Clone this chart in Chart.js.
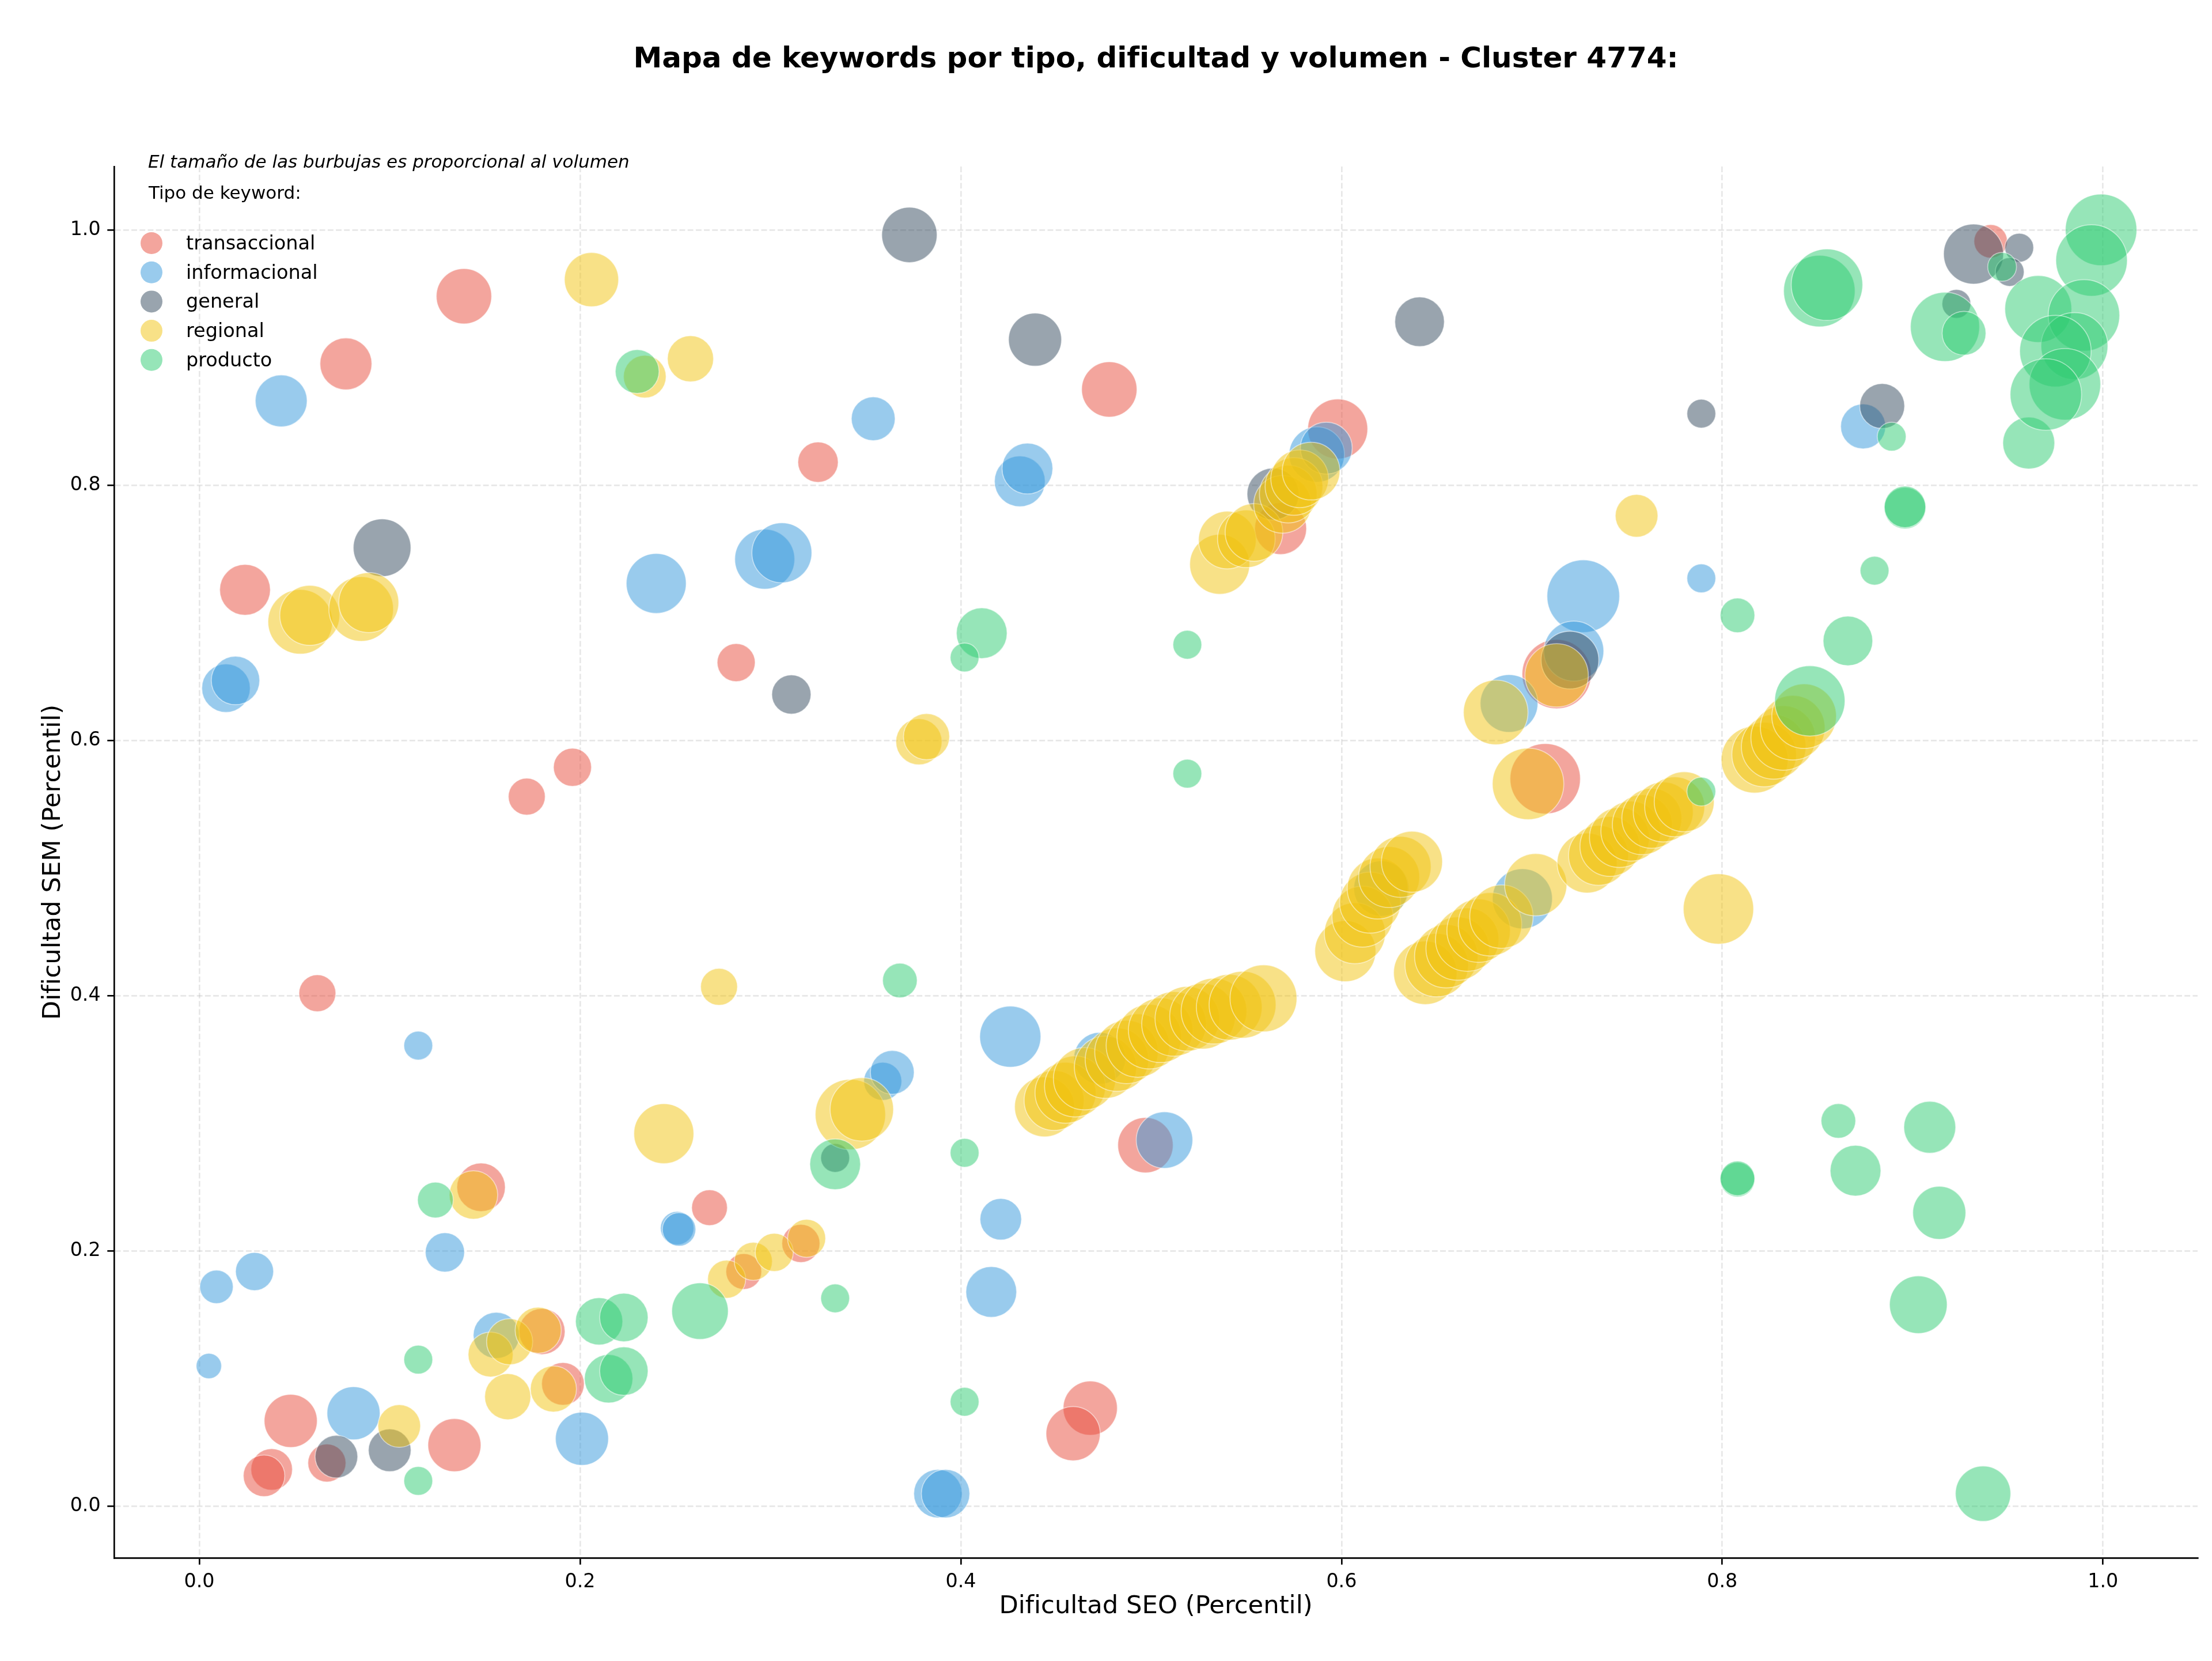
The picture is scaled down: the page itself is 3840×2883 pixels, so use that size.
<!DOCTYPE html>
<html lang="es">
<head>
<meta charset="utf-8">
<title>Mapa de keywords - Cluster 4774</title>
<script src="https://cdn.jsdelivr.net/npm/chart.js@4.4.1/dist/chart.umd.min.js"></script>
<style>
  html, body { margin: 0; padding: 0; background: #fff; overflow: hidden; }
  canvas { display: block; }
</style>
</head>
<body>
<canvas id="keywordChart" width="3840" height="2883"></canvas>
<script>
const titulo = 'Mapa de keywords por tipo, dificultad y volumen - Cluster 4774:';
const nota = 'El tamaño de las burbujas es proporcional al volumen';
const tipos = ['transaccional', 'informacional', 'general', 'regional', 'producto'];
const colores = ['231, 76, 60', '52, 152, 219', '52, 73, 94', '241, 196, 15', '46, 204, 113'];
const xTicks = [0, 0.2, 0.4, 0.6, 0.8, 1.0];
const yTicks = [0, 0.2, 0.4, 0.6, 0.8, 1.0];

// dificultad SEO (x), dificultad SEM (y) y volumen por tipo de keyword
const transaccionalSEO = [0.139, 0.077, 0.024, 0.325, 0.478, 0.598, 0.282, 0.172, 0.196, 0.062, 0.148, 0.268, 0.286, 0.316, 0.191, 0.048, 0.038, 0.034, 0.067, 0.134, 0.468, 0.459, 0.497, 0.707, 0.713, 0.568, 0.941, 0.180];
const transaccionalSEM = [0.948, 0.895, 0.718, 0.818, 0.875, 0.844, 0.661, 0.556, 0.579, 0.402, 0.250, 0.234, 0.184, 0.206, 0.096, 0.067, 0.029, 0.024, 0.034, 0.048, 0.077, 0.057, 0.283, 0.570, 0.652, 0.766, 0.991, 0.137];
const transaccionalVol = [576, 506, 484, 306, 576, 676, 272, 256, 272, 256, 441, 240, 240, 272, 342, 529, 324, 324, 272, 529, 552, 552, 576, 930, 900, 506, 210, 400];

const informacionalSEO = [0.043, 0.014, 0.019, 0.240, 0.297, 0.306, 0.354, 0.431, 0.435, 0.115, 0.359, 0.364, 0.426, 0.421, 0.416, 0.251, 0.252, 0.129, 0.029, 0.009, 0.005, 0.081, 0.201, 0.388, 0.392, 0.507, 0.473, 0.587, 0.592, 0.727, 0.722, 0.688, 0.695, 0.621, 0.789, 0.874, 0.156];
const informacionalSEM = [0.866, 0.641, 0.647, 0.723, 0.742, 0.747, 0.852, 0.803, 0.813, 0.361, 0.333, 0.340, 0.368, 0.225, 0.168, 0.218, 0.217, 0.199, 0.184, 0.172, 0.110, 0.073, 0.053, 0.010, 0.010, 0.287, 0.351, 0.824, 0.829, 0.713, 0.670, 0.629, 0.476, 0.484, 0.727, 0.846, 0.134];
const informacionalVol = [506, 441, 441, 676, 676, 676, 361, 484, 484, 156, 272, 361, 702, 324, 484, 210, 210, 289, 272, 210, 121, 529, 529, 441, 441, 600, 506, 576, 506, 992, 676, 625, 676, 576, 156, 380, 400];

const generalSEO = [0.373, 0.439, 0.641, 0.096, 0.311, 0.932, 0.956, 0.951, 0.923, 0.789, 0.884, 0.564, 0.720, 0.334, 0.072, 0.100];
const generalSEM = [0.996, 0.914, 0.928, 0.751, 0.636, 0.981, 0.986, 0.967, 0.942, 0.856, 0.862, 0.793, 0.663, 0.273, 0.039, 0.044];
const generalVol = [576, 529, 462, 625, 289, 676, 156, 156, 156, 156, 380, 506, 625, 156, 342, 342];

const regionalSEO = [
  0.206, 0.234, 0.258, 0.053, 0.058, 0.085, 0.089, 0.378, 0.382, 0.273, 0.244, 0.144, 0.755, 0.798, 0.105, 0.162, 0.153, 0.163, 0.178, 0.186, 0.277, 0.291, 0.302, 0.319, 0.342, 0.348,
  0.444, 0.449, 0.455, 0.460, 0.465, 0.476, 0.482, 0.487, 0.493, 0.499, 0.505, 0.512, 0.519, 0.527, 0.533, 0.541, 0.548, 0.559,
  0.536, 0.540, 0.550, 0.554, 0.569, 0.572, 0.575, 0.578, 0.584,
  0.602, 0.607, 0.611, 0.615, 0.619, 0.625, 0.631, 0.637,
  0.644, 0.650, 0.655, 0.661, 0.666, 0.672, 0.678, 0.684, 0.702,
  0.729, 0.735, 0.741, 0.746, 0.752, 0.758, 0.763, 0.769, 0.775, 0.780,
  0.817, 0.822, 0.827, 0.832, 0.837, 0.843,
  0.681, 0.713, 0.698
];
const regionalSEM = [
  0.961, 0.885, 0.899, 0.693, 0.698, 0.703, 0.708, 0.599, 0.603, 0.407, 0.292, 0.244, 0.776, 0.468, 0.063, 0.086, 0.119, 0.129, 0.138, 0.092, 0.178, 0.192, 0.199, 0.210, 0.307, 0.311,
  0.313, 0.318, 0.324, 0.329, 0.335, 0.344, 0.350, 0.356, 0.361, 0.368, 0.373, 0.378, 0.382, 0.384, 0.388, 0.391, 0.393, 0.398,
  0.738, 0.757, 0.758, 0.763, 0.785, 0.793, 0.799, 0.805, 0.811,
  0.435, 0.449, 0.462, 0.473, 0.484, 0.493, 0.501, 0.505,
  0.418, 0.424, 0.431, 0.437, 0.444, 0.451, 0.456, 0.462, 0.487,
  0.504, 0.510, 0.517, 0.524, 0.529, 0.534, 0.539, 0.544, 0.548, 0.552,
  0.585, 0.589, 0.595, 0.602, 0.610, 0.619,
  0.622, 0.651, 0.566
];
const regionalVol = [
  552, 342, 400, 784, 676, 784, 676, 400, 400, 256, 676, 441, 342, 930, 342, 400, 380, 400, 400, 400, 272, 272, 272, 272, 930, 756,
  676, 676, 700, 700, 729, 729, 756, 756, 756, 784, 784, 784, 784, 812, 812, 812, 841, 841,
  676, 625, 625, 625, 625, 625, 625, 625, 625,
  700, 700, 700, 700, 700, 700, 700, 700,
  756, 756, 756, 756, 756, 756, 756, 756, 729,
  676, 676, 676, 676, 676, 676, 676, 676, 676, 676,
  841, 784, 784, 784, 784, 784,
  784, 756, 961
];

const productoSEO = [0.230, 0.411, 0.402, 0.519, 0.519, 0.368, 0.124, 0.115, 0.115, 0.210, 0.223, 0.215, 0.223, 0.263, 0.334, 0.402, 0.334, 0.402, 0.861, 0.808, 0.808, 0.870, 0.909, 0.914, 0.903, 0.937, 0.789, 0.846, 0.866, 0.808, 0.880, 0.896, 0.896, 0.889, 0.961, 0.851, 0.855, 0.917, 0.927, 0.947, 0.999, 0.994, 0.966, 0.990, 0.985, 0.975, 0.980, 0.970];
const productoSEM = [0.889, 0.684, 0.665, 0.675, 0.574, 0.412, 0.240, 0.115, 0.020, 0.145, 0.148, 0.100, 0.106, 0.153, 0.268, 0.277, 0.163, 0.082, 0.302, 0.256, 0.257, 0.263, 0.297, 0.230, 0.158, 0.010, 0.560, 0.631, 0.678, 0.698, 0.733, 0.782, 0.783, 0.838, 0.833, 0.952, 0.957, 0.924, 0.919, 0.971, 1.000, 0.976, 0.938, 0.933, 0.909, 0.905, 0.879, 0.871];
const productoVol = [361, 484, 156, 156, 156, 225, 240, 156, 156, 420, 441, 441, 441, 600, 484, 156, 156, 156, 225, 225, 225, 484, 506, 529, 625, 576, 156, 930, 462, 225, 156, 324, 324, 156, 506, 961, 961, 900, 361, 156, 961, 961, 841, 961, 841, 961, 961, 961];

const series = [
  [transaccionalSEO, transaccionalSEM, transaccionalVol],
  [informacionalSEO, informacionalSEM, informacionalVol],
  [generalSEO, generalSEM, generalVol],
  [regionalSEO, regionalSEM, regionalVol],
  [productoSEO, productoSEM, productoVol]
];

const FONT = '"DejaVu Sans", sans-serif';
Chart.defaults.font.family = FONT;
Chart.defaults.color = '#000';

// radio de la burbuja en px a partir del volumen
const radio = vol => 2 * Math.sqrt(vol);

const datasets = series.map(([seo, sem, vol], i) => ({
  label: tipos[i],
  data: seo.map((x, j) => ({ x: x, y: sem[j], r: radio(vol[j]) })),
  backgroundColor: `rgba(${colores[i]}, 0.5)`,
  borderColor: 'rgba(255, 255, 255, 0.5)',
  borderWidth: 1.7,
  hoverRadius: 0,
  order: tipos.length - i
}));

const textosPlugin = {
  id: 'textos',
  afterDraw(chart) {
    const { ctx, chartArea } = chart;
    ctx.save();
    ctx.fillStyle = '#000';
    ctx.textBaseline = 'alphabetic';

    ctx.textAlign = 'center';
    ctx.font = `bold 50px ${FONT}`;
    ctx.fillText(titulo, (chartArea.left + chartArea.right) / 2, 117);

    ctx.textAlign = 'left';
    ctx.font = `italic 31px ${FONT}`;
    ctx.fillText(nota, 257, 291);

    ctx.font = `31px ${FONT}`;
    ctx.fillText('Tipo de keyword:', 258, 345);

    tipos.forEach((tipo, i) => {
      const y = 422 + i * 50.7;
      ctx.beginPath();
      ctx.arc(263, y, 19, 0, Math.PI * 2);
      ctx.fillStyle = `rgba(${colores[i]}, 0.5)`;
      ctx.fill();
      ctx.fillStyle = '#000';
      ctx.font = `33.5px ${FONT}`;
      ctx.fillText(tipo, 323, y + 11);
    });
    ctx.restore();
  }
};

const gridOpts = {
  color: 'rgba(176, 176, 176, 0.3)',
  lineWidth: 2.67,
  tickColor: '#000',
  tickLength: 11.7,
  tickWidth: 2.67
};
const borderOpts = { display: true, color: '#000', width: 2.67, dash: [9.9, 4.3] };

new Chart(document.getElementById('keywordChart'), {
  type: 'bubble',
  data: { datasets },
  options: {
    responsive: false,
    devicePixelRatio: 1,
    animation: false,
    events: [],
    layout: { autoPadding: false, padding: { top: 289, right: 25, bottom: 0, left: 0 } },
    plugins: {
      legend: { display: false },
      tooltip: { enabled: false }
    },
    scales: {
      x: {
        type: 'linear',
        min: -0.0448,
        max: 1.0497,
        bounds: 'data',
        z: 1,
        afterBuildTicks: s => { s.ticks = xTicks.map(v => ({ value: v })); },
        afterFit: s => { s.height = 179; },
        ticks: { font: { size: 33.3 }, color: '#000', padding: 11, callback: v => v.toFixed(1) },
        grid: gridOpts,
        border: borderOpts,
        title: { display: true, text: 'Dificultad SEO (Percentil)', font: { size: 43.3 }, color: '#000', padding: { top: 0, bottom: 68 } }
      },
      y: {
        type: 'linear',
        min: -0.0403,
        max: 1.0496,
        bounds: 'data',
        z: 1,
        afterBuildTicks: s => { s.ticks = yTicks.map(v => ({ value: v })); },
        afterFit: s => { s.width = 198; },
        ticks: { font: { size: 33.3 }, color: '#000', padding: 11.7, callback: v => v.toFixed(1) },
        grid: gridOpts,
        border: borderOpts,
        title: { display: true, text: 'Dificultad SEM (Percentil)', font: { size: 43.3 }, color: '#000', padding: { top: 67, bottom: 0 } }
      }
    }
  },
  plugins: [textosPlugin]
});
</script>
</body>
</html>
